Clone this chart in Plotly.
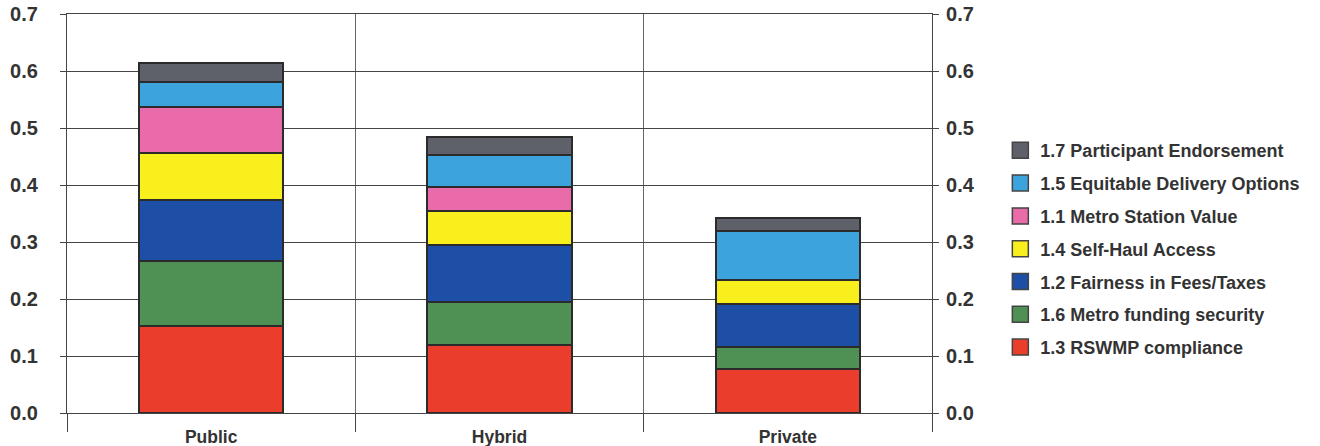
import plotly.graph_objects as go

categories = ["Public", "Hybrid", "Private"]

# stacked bottom -> top
series_names = [
    "1.3 RSWMP compliance",
    "1.6 Metro funding security",
    "1.2 Fairness in Fees/Taxes",
    "1.4 Self-Haul Access",
    "1.1 Metro Station Value",
    "1.5 Equitable Delivery Options",
    "1.7 Participant Endorsement",
]
rswmp = [0.153, 0.120, 0.078]
funding = [0.114, 0.075, 0.038]
fairness = [0.107, 0.099, 0.076]
self_haul = [0.083, 0.061, 0.041]
station = [0.080, 0.041, 0.000]
equitable = [0.043, 0.057, 0.086]
endorsement = [0.034, 0.032, 0.024]
series_values = [rswmp, funding, fairness, self_haul, station, equitable, endorsement]

colors = ["#ea3d2c", "#4f9154", "#1d4fa6", "#f8ef1c", "#ea6ba9", "#3ca3dd", "#5e6169"]

y_ticks = [0.0, 0.1, 0.2, 0.3, 0.4, 0.5, 0.6, 0.7]
y_tick_labels = ["0.0", "0.1", "0.2", "0.3", "0.4", "0.5", "0.6", "0.7"]

FONT = "Liberation Sans, Arial, sans-serif"
TXT = "#333333"
EDGE = "#2b2b2b"

fig = go.Figure()
for name, vals, col in zip(series_names, series_values, colors):
    fig.add_trace(go.Bar(
        x=categories, y=vals, name=name, showlegend=False,
        marker=dict(color=col, line=dict(color=EDGE, width=2)),
        hoverinfo="name+y",
    ))

# legend entries (square swatches), top item = last series
n = len(series_names)
for i, (name, col) in enumerate(zip(series_names, colors)):
    fig.add_trace(go.Scatter(
        x=[None], y=[None], mode="markers", name=name, yaxis="y2",
        legendgroup=f"g{i}", legendrank=n - i,
        marker=dict(symbol="square", size=20, color=col,
                    line=dict(color="#444444", width=1.5)),
    ))

axis_common = dict(
    range=[0, 0.7001],
    tickvals=y_ticks, ticktext=y_tick_labels,
    ticks="outside", ticklen=6, tickcolor="#444444", tickwidth=1,
    showline=True, linecolor="#444444", linewidth=1.2,
    tickfont=dict(family=FONT, size=20, color=TXT, weight="bold"),
    zeroline=False, automargin=False,
)

fig.update_layout(
    width=1320, height=446,
    margin=dict(l=67, r=388, t=14, b=33),
    paper_bgcolor="white", plot_bgcolor="white",
    barmode="stack", bargap=0.5,
    xaxis=dict(
        type="category", tickson="boundaries", ticks="outside", ticklen=18,
        tickcolor="#444444", tickwidth=1,
        showgrid=True, gridcolor="#666666", gridwidth=1,
        showline=True, linecolor="#444444", linewidth=1.2, mirror=True,
        tickfont=dict(family=FONT, size=17.5, color=TXT, weight="bold"),
        ticklabelstandoff=8, automargin=False,
    ),
    yaxis=dict(**axis_common, showgrid=True, gridcolor="#444444", gridwidth=1.2,
               ticklabelstandoff=18),
    yaxis2=dict(**axis_common, overlaying="y", side="right", showgrid=False,
                ticklabelstandoff=3),
    legend=dict(
        x=1.079, xanchor="left", y=0.704, yanchor="top",
        font=dict(family=FONT, size=18, color=TXT, weight="bold"),
        tracegroupgap=6.4, bgcolor="rgba(0,0,0,0)", itemsizing="trace",
    ),
    showlegend=True,
)

fig.write_html("out.html")
